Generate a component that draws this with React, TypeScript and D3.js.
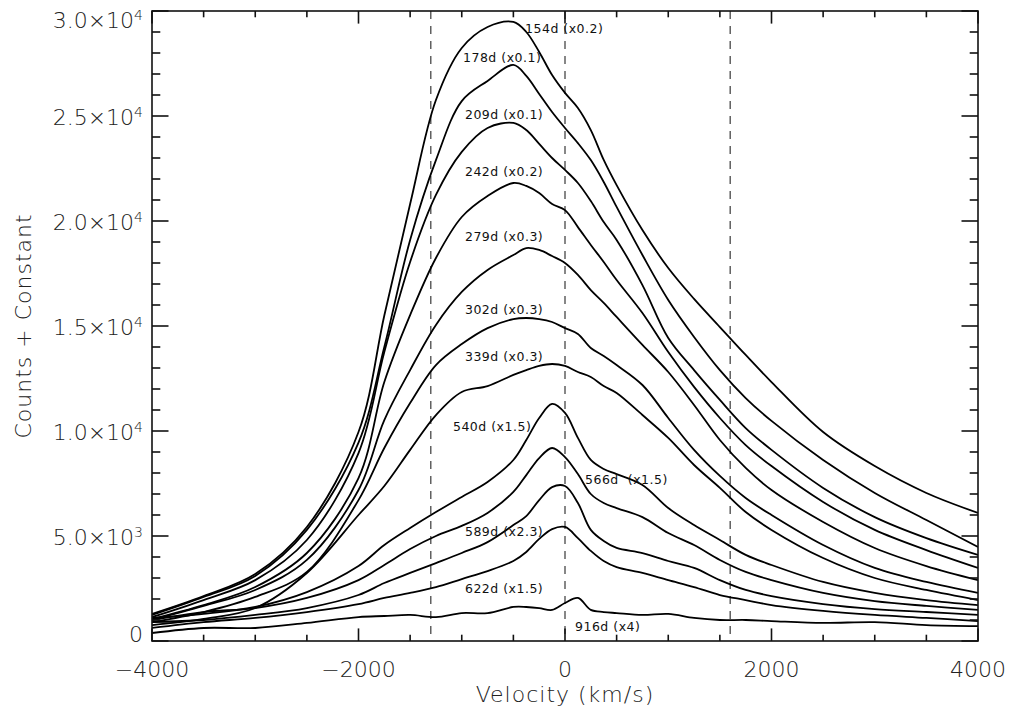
import React, { Component } from "react";
import * as d3 from "d3";

// velocity grid (km/s) shared by every spectrum
const velocity = [-4000, -3500, -3000, -2500, -2000, -1750, -1500, -1250, -1000, -750, -500, -375, -250, -125, 0, 125, 250, 375, 500, 750, 1000, 1250, 1500, 1750, 2000, 2500, 3000, 3500, 4000];

// counts + constant
const day154 = [1290, 2140, 3190, 5430, 9950, 15500, 20810, 25760, 28240, 29240, 29480, 29000, 28050, 26950, 26100, 25380, 24330, 22910, 21710, 19570, 17760, 16290, 14950, 13620, 12330, 9950, 8330, 7050, 6100];
const day178 = [1240, 2100, 3100, 5290, 9450, 14000, 19100, 22900, 25710, 26670, 27430, 26910, 26050, 25190, 24430, 23710, 22900, 21860, 20670, 18380, 16240, 14480, 12900, 11570, 10480, 8620, 7050, 5760, 4480];
const day209 = [1140, 1950, 2900, 4810, 8950, 13760, 18050, 21240, 23290, 24430, 24670, 24330, 23670, 23000, 22430, 21810, 20950, 19950, 19100, 16950, 14430, 12900, 11480, 10140, 9100, 7290, 5900, 4900, 4100];
const day242 = [1050, 1710, 2570, 4190, 7760, 12330, 15520, 18240, 20190, 21190, 21810, 21670, 21330, 20810, 20520, 19710, 18860, 18050, 17190, 15620, 13760, 12100, 10620, 9330, 8330, 6620, 5290, 4330, 3480];
const day279 = [1000, 1670, 2430, 3860, 7190, 10520, 12900, 15050, 16620, 17670, 18380, 18710, 18620, 18330, 18000, 17430, 16710, 16100, 15430, 14100, 12810, 11240, 9570, 8240, 7190, 5670, 4430, 3570, 2900];
const day302 = [900, 1380, 2100, 3290, 6710, 9190, 11330, 13140, 14140, 14900, 15330, 15380, 15330, 15190, 14900, 14620, 13950, 13570, 13140, 12190, 10620, 9100, 7860, 6810, 6000, 4570, 3480, 2810, 2290];
const day339 = [760, 1050, 1570, 3240, 6000, 7380, 9100, 10760, 11860, 12140, 12670, 12900, 13100, 13190, 13100, 12810, 12570, 12140, 11810, 10760, 9670, 8380, 7290, 6140, 5290, 3950, 3000, 2430, 1950];
const day540 = [1100, 1290, 1620, 2330, 3570, 4570, 5380, 6140, 6860, 7570, 8620, 9570, 10620, 11290, 10860, 9670, 8620, 8190, 7950, 7430, 6330, 5520, 4810, 4100, 3620, 2810, 2290, 1950, 1710];
const day566 = [1000, 1380, 1570, 2050, 2900, 3620, 4380, 5000, 5480, 6100, 7100, 7900, 8710, 9190, 8760, 7950, 7000, 6570, 6330, 5900, 5140, 4570, 3860, 3290, 2900, 2290, 1900, 1670, 1480];
const day589 = [900, 1000, 1240, 1570, 2190, 2760, 3240, 3710, 4190, 4710, 5520, 5950, 6710, 7330, 7380, 6570, 5290, 4760, 4430, 4190, 3810, 3480, 2900, 2430, 2140, 1760, 1520, 1380, 1240];
const day622 = [620, 900, 1100, 1380, 1760, 2050, 2290, 2570, 2950, 3330, 3810, 4240, 4860, 5330, 5430, 4900, 4290, 3810, 3520, 3240, 2900, 2570, 2190, 1950, 1710, 1430, 1240, 1100, 950];
const day916 = [380, 620, 620, 860, 1140, 1190, 1240, 1140, 1330, 1330, 1620, 1620, 1570, 1480, 1810, 2050, 1480, 1380, 1330, 1240, 1290, 1100, 1000, 1000, 950, 860, 900, 760, 710];

const spectra = [day154, day178, day209, day242, day279, day302, day339, day540, day566, day589, day622, day916];

const epochLabels = ["154d (x0.2)", "178d (x0.1)", "209d (x0.1)", "242d (x0.2)", "279d (x0.3)", "302d (x0.3)", "339d (x0.3)", "540d (x1.5)", "566d  (x1.5)", "589d (x2.3)", "622d (x1.5)", "916d (x4)"];
const labelVelocity = [-387, -988, -969, -969, -969, -969, -969, -1085, 194, -969, -969, 97];
const labelCounts = [28950, 27570, 24860, 22140, 19050, 15570, 13330, 10000, 7480, 5000, 2290, 480];

const markerVelocity = [-1300, 0, 1600];

const xMajor = [-4000, -2000, 0, 2000, 4000];
const yMajor = [0, 5000, 10000, 15000, 20000, 25000, 30000];

class App extends Component {
  node: SVGSVGElement | null = null;

  constructor(props) {
    super(props);
    this.createChart = this.createChart.bind(this);
  }

  componentDidMount() {
    this.createChart();
  }

  createChart() {
    const svg = d3.select(this.node);
    svg.selectAll("*").remove();

    const left = 152, right = 978, top = 11, bottom = 641;
    const x = d3.scaleLinear().domain([-4000, 4000]).range([left, right]);
    const y = d3.scaleLinear().domain([0, 30000]).range([bottom, top]);
    const font = "'DejaVu Sans', sans-serif";
    const ink = "#222";

    const xMinor = d3.range(-4000, 4001, 500).filter(v => !xMajor.includes(v));
    const yMinor = d3.range(0, 30001, 1000).filter(v => !yMajor.includes(v));

    svg.append("clipPath").attr("id", "plotclip")
      .append("rect").attr("x", left).attr("y", top).attr("width", right - left).attr("height", bottom - top);

    // dashed markers
    svg.append("g").selectAll("line")
      .data(markerVelocity)
      .join("line")
      .attr("x1", d => x(d)).attr("x2", d => x(d))
      .attr("y1", top).attr("y2", bottom)
      .attr("stroke", "#555").attr("stroke-width", 1.4)
      .attr("stroke-dasharray", "8,7");

    // spectra
    const line = d3.line<number>()
      .x((d, i) => x(velocity[i]))
      .y(d => y(d))
      .curve(d3.curveCatmullRom.alpha(0.5));

    svg.append("g").attr("clip-path", "url(#plotclip)")
      .selectAll("path")
      .data(spectra)
      .join("path")
      .attr("d", d => line(d))
      .attr("fill", "none")
      .attr("stroke", "#000")
      .attr("stroke-width", 1.8)
      .attr("stroke-linejoin", "round");

    // epoch labels
    svg.append("g").selectAll("text")
      .data(epochLabels)
      .join("text")
      .attr("x", (d, i) => x(labelVelocity[i]))
      .attr("y", (d, i) => y(labelCounts[i]))
      .attr("font-family", font)
      .attr("font-size", 12.5)
      .attr("letter-spacing", 0.5)
      .attr("fill", "#111")
      .style("white-space", "pre")
      .text(d => d);

    // frame
    const axisG = svg.append("g").attr("stroke", "#111").attr("stroke-width", 1.6);
    axisG.append("rect")
      .attr("x", left).attr("y", top).attr("width", right - left).attr("height", bottom - top)
      .attr("fill", "none");

    const xTick = (vals, len) => {
      vals.forEach(v => {
        axisG.append("line").attr("x1", x(v)).attr("x2", x(v)).attr("y1", bottom).attr("y2", bottom - len);
        axisG.append("line").attr("x1", x(v)).attr("x2", x(v)).attr("y1", top).attr("y2", top + len);
      });
    };
    const yTick = (vals, len) => {
      vals.forEach(v => {
        axisG.append("line").attr("y1", y(v)).attr("y2", y(v)).attr("x1", left).attr("x2", left + len);
        axisG.append("line").attr("y1", y(v)).attr("y2", y(v)).attr("x1", right).attr("x2", right - len);
      });
    };
    xTick(xMajor, 12.6);
    xTick(xMinor, 6.3);
    yTick(yMajor, 16.5);
    yTick(yMinor, 8.3);

    // x tick labels
    svg.append("g").selectAll("text")
      .data(xMajor)
      .join("text")
      .attr("x", d => x(d))
      .attr("y", 677)
      .attr("text-anchor", "middle")
      .attr("font-family", font)
      .attr("font-size", 22)
      .attr("font-weight", 200)
      .attr("fill", ink)
      .text(d => (d < 0 ? "\u2212" : "") + Math.abs(d));

    // y tick labels, IDL style  m.m×10^e
    const yLab = svg.append("g").selectAll("text")
      .data(yMajor)
      .join("text")
      .attr("x", 143)
      .attr("y", d => Math.min(Math.max(y(d) + 9, 28), 642))
      .attr("text-anchor", "end")
      .attr("font-family", font)
      .attr("font-size", 22)
      .attr("font-weight", 200)
      .attr("fill", ink);
    yLab.each(function (d) {
      const t = d3.select(this);
      if (d === 0) { t.text("0"); return; }
      const e = Math.floor(Math.log10(d));
      t.append("tspan").text((d / Math.pow(10, e)).toFixed(1) + "\u00d710");
      t.append("tspan").attr("dy", -8).attr("font-size", 14).text(e);
    });

    // axis titles
    svg.append("text")
      .attr("x", x(0)).attr("y", 702)
      .attr("text-anchor", "middle")
      .attr("font-family", font).attr("font-size", 22)
      .attr("font-weight", 200)
      .attr("letter-spacing", 1)
      .attr("fill", ink)
      .text("Velocity (km/s)");

    svg.append("text")
      .attr("transform", `translate(31, ${(top + bottom) / 2}) rotate(-90)`)
      .attr("text-anchor", "middle")
      .attr("font-family", font).attr("font-size", 22)
      .attr("font-weight", 200)
      .attr("letter-spacing", 1)
      .attr("fill", ink)
      .text("Counts + Constant");
  }

  render() {
    return (
      <svg ref={node => { this.node = node; }} width={1009} height={712}
        style={{ position: "absolute", left: 0, top: 0, background: "#fff" }}>
      </svg>
    );
  }
}

export default App;
